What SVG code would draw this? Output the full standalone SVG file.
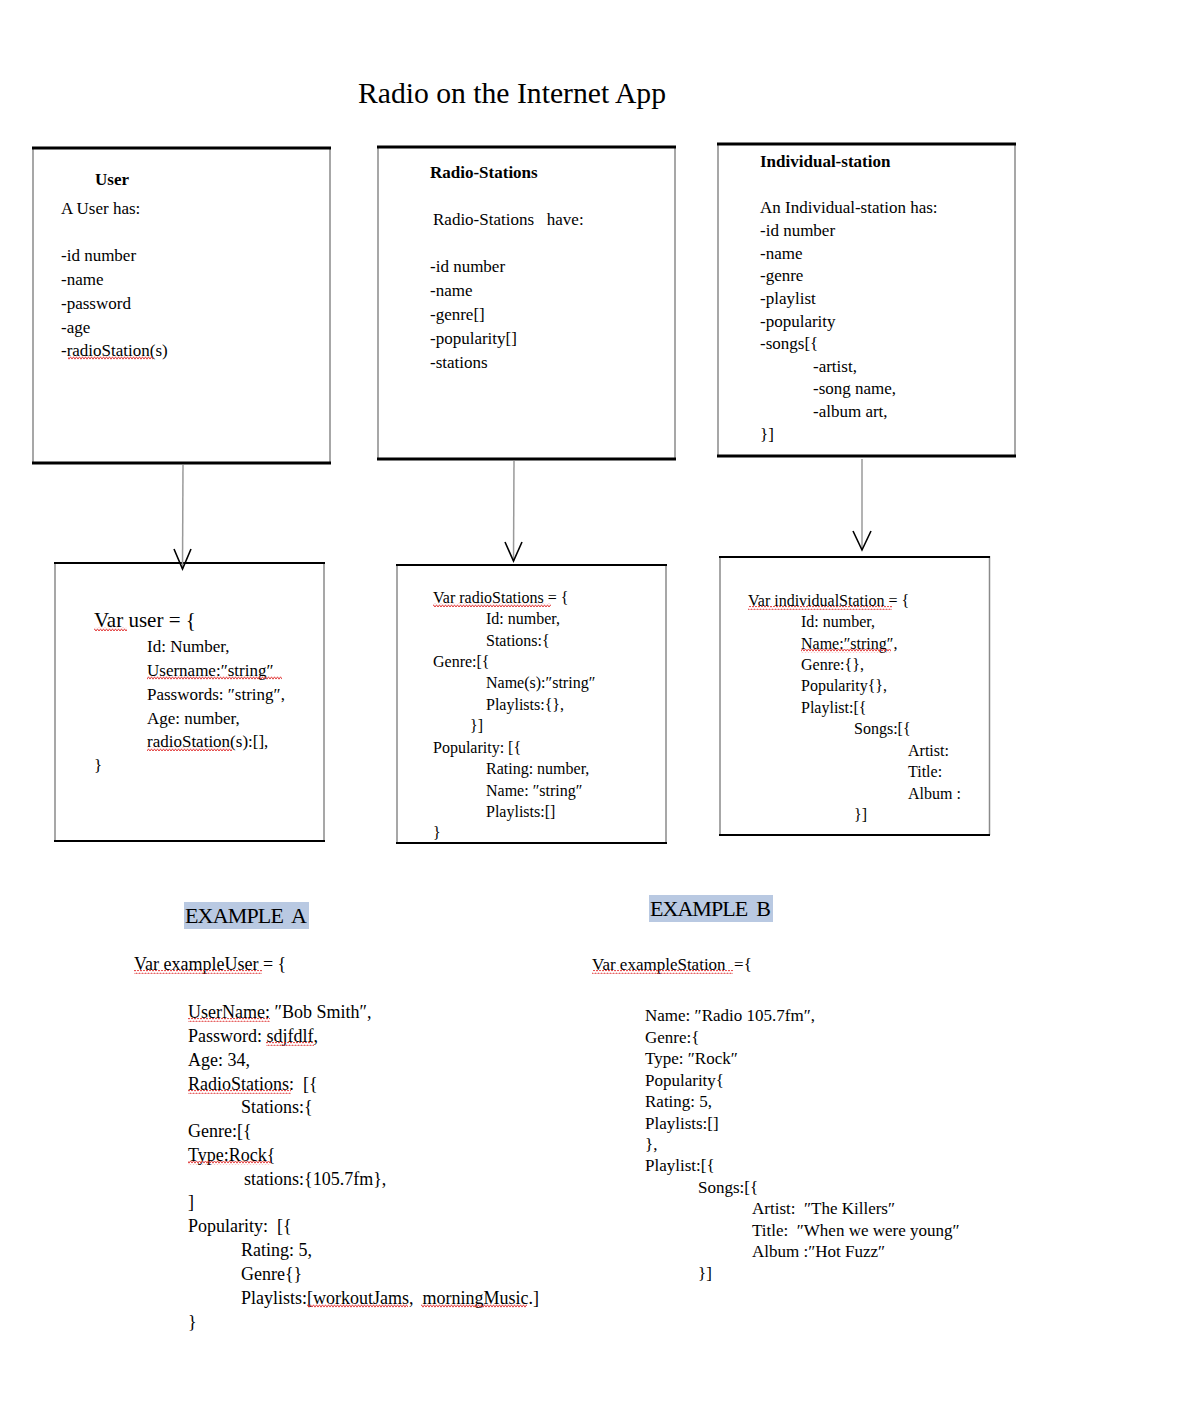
<svg xmlns="http://www.w3.org/2000/svg" width="1180" height="1416" viewBox="0 0 1180 1416">
<style>
  text { font-family: "Liberation Serif", "Times New Roman", serif; fill: #000; }
  .t { font-size: 17px; }
  .s { font-size: 16px; }
  .b { font-size: 17px; font-weight: bold; }
  .title { font-size: 30px; }
  .ex { font-size: 22px; }
  .ea { font-size: 18px; }
  .side { stroke: #8a8a8a; stroke-width: 1.5; fill: none; }
  .thick { stroke: #000; stroke-width: 3; fill: none; }
  .mid { stroke: #000; stroke-width: 2; fill: none; }
  .shaft { stroke: #9a9a9a; stroke-width: 1.5; fill: none; }
  .head { stroke: #000; stroke-width: 1.6; fill: none; }
  .hl { fill: #b9c9e2; }
  .sq { fill: url(#squiggle); }
</style>
<defs>
  <pattern id="squiggle" x="0" y="0" width="6" height="4" patternUnits="userSpaceOnUse">
    <path d="M0,3.2 L1.5,0.8 L3,3.2 L4.5,0.8 L6,3.2" stroke="#e03030" stroke-width="0.9" fill="none"/>
  </pattern>
</defs>
<rect x="0" y="0" width="1180" height="1416" fill="#fff"/>

<g id="title">
  <text class="title" x="358" y="103" textLength="308" lengthAdjust="spacingAndGlyphs">Radio on the Internet App</text>
</g>

<g id="user-box">
  <line class="side" x1="33" y1="147" x2="33" y2="463"/>
  <line class="side" x1="330" y1="147" x2="330" y2="463"/>
  <line class="thick" x1="32" y1="148" x2="331" y2="148"/>
  <line class="thick" x1="32" y1="463" x2="331" y2="463"/>
  <text class="b" x="95" y="185">User</text>
  <text class="t" x="61" y="214">A User has:</text>
  <text class="t" x="61" y="261">-id number</text>
  <text class="t" x="61" y="285">-name</text>
  <text class="t" x="61" y="309">-password</text>
  <text class="t" x="61" y="333">-age</text>
  <text class="t" x="61" y="356">-radioStation(s)</text>
  <rect class="sq" x="68" y="356" width="85" height="4"/>
</g>

<g id="radio-stations-box">
  <line class="side" x1="378" y1="146" x2="378" y2="459"/>
  <line class="side" x1="675" y1="146" x2="675" y2="459"/>
  <line class="thick" x1="377" y1="147" x2="676" y2="147"/>
  <line class="thick" x1="377" y1="459" x2="676" y2="459"/>
  <text class="b" x="430" y="178">Radio-Stations</text>
  <text class="t" x="433" y="225" xml:space="preserve">Radio-Stations   have:</text>
  <text class="t" x="430" y="272">-id number</text>
  <text class="t" x="430" y="296">-name</text>
  <text class="t" x="430" y="320">-genre[]</text>
  <text class="t" x="430" y="344">-popularity[]</text>
  <text class="t" x="430" y="368">-stations</text>
</g>

<g id="individual-station-box">
  <line class="side" x1="718" y1="143" x2="718" y2="456"/>
  <line class="side" x1="1015" y1="143" x2="1015" y2="456"/>
  <line class="thick" x1="717" y1="144" x2="1016" y2="144"/>
  <line class="thick" x1="717" y1="456" x2="1016" y2="456"/>
  <text class="b" x="760" y="167">Individual-station</text>
  <text class="t" x="760" y="213">An Individual-station has:</text>
  <text class="t" x="760" y="236">-id number</text>
  <text class="t" x="760" y="259">-name</text>
  <text class="t" x="760" y="281">-genre</text>
  <text class="t" x="760" y="304">-playlist</text>
  <text class="t" x="760" y="327">-popularity</text>
  <text class="t" x="760" y="349">-songs[{</text>
  <text class="t" x="813" y="372">-artist,</text>
  <text class="t" x="813" y="394">-song name,</text>
  <text class="t" x="813" y="417">-album art,</text>
  <text class="t" x="760" y="440">}]</text>
</g>

<g id="var-user-box">
  <line class="side" x1="55" y1="562" x2="55" y2="841"/>
  <line class="side" x1="324" y1="562" x2="324" y2="841"/>
  <line class="mid" x1="54" y1="563" x2="325" y2="563"/>
  <line class="mid" x1="54" y1="841" x2="325" y2="841"/>
  <text x="94" y="627" style="font-size:21px">Var user = {</text>
  <rect class="sq" x="94" y="627" width="33" height="4"/>
  <text class="t" x="147" y="652">Id: Number,</text>
  <text class="t" x="147" y="676">Username:″string″</text>
  <rect class="sq" x="147" y="676" width="135" height="4"/>
  <text class="t" x="147" y="700">Passwords: ″string″,</text>
  <text class="t" x="147" y="724">Age: number,</text>
  <text class="t" x="147" y="747">radioStation(s):[],</text>
  <rect class="sq" x="147" y="747" width="85" height="4"/>
  <text class="t" x="94" y="771">}</text>
</g>

<g id="var-radiostations-box">
  <line class="side" x1="397" y1="564" x2="397" y2="843"/>
  <line class="side" x1="666" y1="564" x2="666" y2="843"/>
  <line class="mid" x1="396" y1="565" x2="667" y2="565"/>
  <line class="mid" x1="396" y1="843" x2="667" y2="843"/>
  <text class="s" x="433" y="603">Var radioStations = {</text>
  <rect class="sq" x="433" y="603" width="118" height="4"/>
  <text class="s" x="486" y="624">Id: number,</text>
  <text class="s" x="486" y="646">Stations:{</text>
  <text class="s" x="433" y="667">Genre:[{</text>
  <text class="s" x="486" y="688">Name(s):″string″</text>
  <text class="s" x="486" y="710">Playlists:{},</text>
  <text class="s" x="470" y="731">}]</text>
  <text class="s" x="433" y="753">Popularity: [{</text>
  <text class="s" x="486" y="774">Rating: number,</text>
  <text class="s" x="486" y="796">Name: ″string″</text>
  <text class="s" x="486" y="817">Playlists:[]</text>
  <text class="s" x="433" y="838">}</text>
</g>

<g id="var-individualstation-box">
  <line class="side" x1="720" y1="556" x2="720" y2="835"/>
  <line class="side" x1="989.5" y1="556" x2="989.5" y2="835"/>
  <line class="mid" x1="719" y1="557" x2="990" y2="557"/>
  <line class="mid" x1="719" y1="835" x2="990" y2="835"/>
  <text class="s" x="748" y="606">Var individualStation = {</text>
  <rect class="sq" x="748" y="606" width="144" height="4"/>
  <text class="s" x="801" y="627">Id: number,</text>
  <text class="s" x="801" y="649">Name:″string″,</text>
  <rect class="sq" x="801" y="649" width="90" height="4"/>
  <text class="s" x="801" y="670">Genre:{},</text>
  <text class="s" x="801" y="691">Popularity{},</text>
  <text class="s" x="801" y="713">Playlist:[{</text>
  <text class="s" x="854" y="734">Songs:[{</text>
  <text class="s" x="908" y="756">Artist:</text>
  <text class="s" x="908" y="777">Title:</text>
  <text class="s" x="908" y="799">Album :</text>
  <text class="s" x="854" y="820">}]</text>
</g>

<g id="connectors">
  <line class="shaft" x1="183" y1="465" x2="182.5" y2="569"/>
  <polyline class="head" points="174,549 182.5,569 191,549"/>
  <line class="shaft" x1="514" y1="461" x2="513.5" y2="561"/>
  <polyline class="head" points="505,542 513.5,561 522,542"/>
  <line class="shaft" x1="862" y1="459" x2="862" y2="550"/>
  <polyline class="head" points="853,531 862,550 871,531"/>
</g>

<g id="example-a">
  <rect class="hl" x="184" y="902" width="125" height="27"/>
  <text class="ex" x="185" y="923" xml:space="preserve" textLength="122" lengthAdjust="spacing">EXAMPLE  A</text>
  <text class="ea" x="134" y="970">Var exampleUser = {</text>
  <rect class="sq" x="134" y="970" width="128" height="4"/>
  <text class="ea" x="188" y="1018">UserName: ″Bob Smith″,</text>
  <rect class="sq" x="188" y="1018" width="82" height="4"/>
  <text class="ea" x="188" y="1042">Password: sdjfdlf,</text>
  <rect class="sq" x="266" y="1042" width="48" height="4"/>
  <text class="ea" x="188" y="1066">Age: 34,</text>
  <text class="ea" x="188" y="1090" xml:space="preserve">RadioStations:  [{</text>
  <rect class="sq" x="188" y="1090" width="103" height="4"/>
  <text class="ea" x="241" y="1113">Stations:{</text>
  <text class="ea" x="188" y="1137">Genre:[{</text>
  <text class="ea" x="188" y="1161">Type:Rock{</text>
  <rect class="sq" x="188" y="1161" width="83" height="4"/>
  <text class="ea" x="244" y="1185">stations:{105.7fm},</text>
  <text class="ea" x="188" y="1208">]</text>
  <text class="ea" x="188" y="1232" xml:space="preserve">Popularity:  [{</text>
  <text class="ea" x="241" y="1256">Rating: 5,</text>
  <text class="ea" x="241" y="1280">Genre{}</text>
  <text class="ea" x="241" y="1304" xml:space="preserve">Playlists:[workoutJams,  morningMusic.]</text>
  <rect class="sq" x="307" y="1304" width="101" height="4"/>
  <rect class="sq" x="421" y="1304" width="106" height="4"/>
  <text class="ea" x="188" y="1328">}</text>
</g>

<g id="example-b">
  <rect class="hl" x="649" y="895" width="124" height="27"/>
  <text class="ex" x="650" y="916" xml:space="preserve" textLength="121" lengthAdjust="spacing">EXAMPLE  B</text>
  <text class="t" x="592" y="970" xml:space="preserve">Var exampleStation  ={</text>
  <rect class="sq" x="592" y="970" width="141" height="4"/>
  <text class="t" x="645" y="1021">Name: ″Radio 105.7fm″,</text>
  <text class="t" x="645" y="1043">Genre:{</text>
  <text class="t" x="645" y="1064">Type: ″Rock″</text>
  <text class="t" x="645" y="1086">Popularity{</text>
  <text class="t" x="645" y="1107">Rating: 5,</text>
  <text class="t" x="645" y="1129">Playlists:[]</text>
  <text class="t" x="645" y="1150">},</text>
  <text class="t" x="645" y="1171">Playlist:[{</text>
  <text class="t" x="698" y="1193">Songs:[{</text>
  <text class="t" x="752" y="1214" xml:space="preserve">Artist:  ″The Killers″</text>
  <text class="t" x="752" y="1236" xml:space="preserve">Title:  ″When we were young″</text>
  <text class="t" x="752" y="1257">Album :″Hot Fuzz″</text>
  <text class="t" x="698" y="1279">}]</text>
</g>
</svg>
